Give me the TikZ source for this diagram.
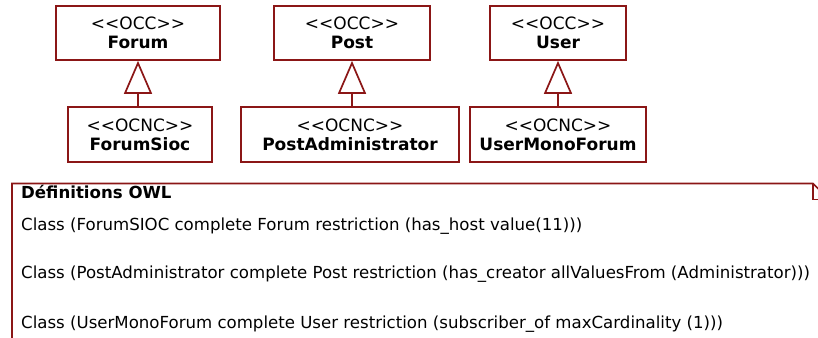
\documentclass[tikz,border=0pt]{standalone}
\usepackage{fontspec}
\setmainfont{DejaVu Sans}
\usetikzlibrary{arrows.meta}
\definecolor{umlred}{HTML}{8B1616}
\tikzset{
  classbox/.style={draw=umlred, line width=1.7pt, fill=white, rectangle,
    inner sep=0pt, align=center, font=\fontsize{17}{19}\selectfont},
  generalize/.style={draw=umlred, line width=1.7pt,
    -{Triangle[open, length=33pt, width=28pt, line width=1.7pt, fill=white]}},
  notetext/.style={anchor=base west, inner sep=0pt, font=\fontsize{16.6}{19}\selectfont},
}
\newcommand{\stereo}[1]{<\kern0pt<#1>\kern0pt>}
\begin{document}
\begin{tikzpicture}[x=1pt, y=-1pt]
  \useasboundingbox (0,0) rectangle (818,337);

  % superclasses
  \node[classbox, minimum width=164pt, minimum height=54pt] (forum) at (138,33)
    {\stereo{OCC}\\\textbf{Forum}};
  \node[classbox, minimum width=156pt, minimum height=54pt] (post) at (352,33)
    {\stereo{OCC}\\\textbf{Post}};
  \node[classbox, minimum width=136pt, minimum height=54pt] (user) at (558,33)
    {\stereo{OCC}\\\textbf{User}};

  % subclasses
  \node[classbox, minimum width=144pt, minimum height=55pt] (forumsioc) at (140,134.5)
    {\stereo{OCNC}\\\textbf{ForumSioc}};
  \node[classbox, minimum width=218pt, minimum height=55pt] (postadmin) at (350,134.5)
    {\stereo{OCNC}\\\textbf{PostAdministrator}};
  \node[classbox, minimum width=176pt, minimum height=55pt] (usermono) at (558,134.5)
    {\stereo{OCNC}\\\textbf{UserMonoForum}};

  % generalisation arrows
  \draw[generalize] (forum.south |- forumsioc.north) -- (forum.south);
  \draw[generalize] (post.south |- postadmin.north) -- (post.south);
  \draw[generalize] (user.south |- usermono.north) -- (user.south);

  % note with folded corner
  \draw[umlred, line width=1.7pt, line join=miter]
    (12,345) -- (12,183.5) -- (813,183.5) -- (829,199.5);
  \draw[umlred, line width=1.7pt] (813,183.5) -- (813,199.5) -- (829,199.5);

  \node[notetext] (title) at (21,198) {\textbf{Définitions OWL}};
  \node[notetext] (def1) at (21,230)
    {Class (ForumSIOC complete Forum restriction (has\_host value(11)))};
  \node[notetext] (def2) at (21,278)
    {Class (PostAdministrator complete Post restriction (has\_creator allValuesFrom (Administrator)))};
  \node[notetext] (def3) at (21,328)
    {Class (UserMonoForum complete User restriction (subscriber\_of maxCardinality (1)))};
\end{tikzpicture}
\end{document}
